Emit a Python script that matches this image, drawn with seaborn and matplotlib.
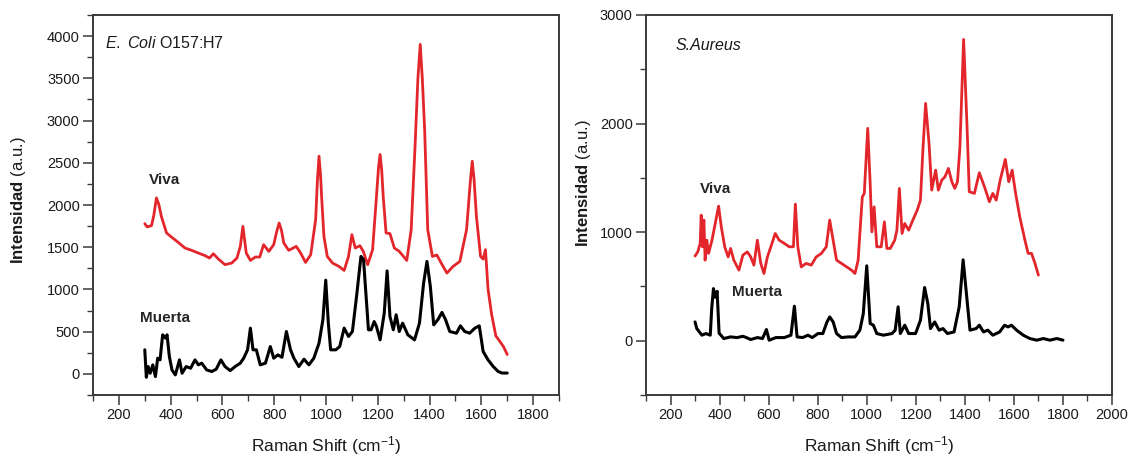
import matplotlib
matplotlib.use("Agg")
import matplotlib.pyplot as plt
import numpy as np
import pandas as pd
import seaborn as sns
from matplotlib.ticker import MultipleLocator

# ---------------- data ----------------
ecoli_viva_x = [300, 309, 326, 335, 345, 354, 364, 384, 403, 429, 455, 481, 507, 533, 550, 565, 584,
                610, 636, 656, 669, 679, 692, 708, 727, 744, 759, 779, 798, 810, 819, 828, 837, 856,
                885, 902, 921, 941, 960, 967, 973, 979, 983, 992, 1005, 1025, 1050, 1070, 1087, 1100,
                1113, 1131, 1144, 1161, 1180, 1195, 1203, 1209, 1215, 1221, 1232, 1247, 1264, 1283,
                1312, 1329, 1344, 1355, 1364, 1372, 1381, 1393, 1411, 1428, 1445, 1467, 1491, 1517,
                1543, 1558, 1565, 1572, 1581, 1597, 1607, 1616, 1626, 1640, 1656, 1672, 1686, 1700]
ecoli_viva_y = [1780, 1740, 1756, 1880, 2084, 2010, 1866, 1669, 1621, 1558, 1491, 1463, 1431, 1400,
                1372, 1423, 1361, 1293, 1313, 1372, 1510, 1747, 1431, 1344, 1384, 1384, 1530, 1451,
                1530, 1690, 1787, 1700, 1550, 1463, 1510, 1431, 1320, 1412, 1827, 2300, 2578, 2350,
                2103, 1629, 1391, 1313, 1273, 1225, 1391, 1649, 1491, 1518, 1451, 1293, 1471, 2103,
                2450, 2598, 2420, 2103, 1669, 1661, 1491, 1451, 1344, 1708, 2697, 3500, 3902, 3500,
                2894, 1708, 1391, 1408, 1313, 1194, 1273, 1332, 1708, 2300, 2518, 2300, 1866, 1391,
                1360, 1471, 1000, 700, 450, 383, 320, 230]

ecoli_muerta_x = [300, 306, 313, 321, 331, 341, 350, 359, 369, 380, 386, 395, 405, 418, 434, 444, 460,
                  477, 494, 507, 520, 539, 559, 576, 594, 610, 630, 649, 669, 682, 697, 708, 718, 731,
                  746, 766, 785, 798, 814, 830, 847, 863, 876, 895, 915, 934, 953, 973, 988, 999, 1009,
                  1018, 1038, 1053, 1070, 1087, 1102, 1118, 1135, 1145, 1154, 1164, 1174, 1186, 1195,
                  1209, 1225, 1236, 1247, 1260, 1271, 1283, 1296, 1316, 1342, 1361, 1377, 1390, 1403,
                  1416, 1432, 1448, 1462, 1478, 1504, 1519, 1536, 1555, 1575, 1592, 1607, 1626, 1646,
                  1665, 1680, 1700]
ecoli_muerta_y = [285, -40, 87, 8, 107, -32, 186, 166, 463, 423, 463, 205, 47, -12, 166, 8, 87, 67,
                  166, 107, 127, 47, 28, 56, 166, 87, 39, 87, 127, 186, 285, 542, 285, 285, 107, 127,
                  324, 186, 225, 197, 502, 285, 186, 87, 174, 107, 186, 364, 641, 1110, 601, 285, 285,
                  324, 542, 443, 502, 917, 1391, 1352, 957, 522, 522, 620, 561, 403, 720, 1220, 680,
                  522, 700, 502, 601, 463, 403, 601, 1076, 1332, 1036, 581, 641, 728, 641, 502, 482,
                  569, 502, 482, 542, 569, 265, 166, 87, 28, 10, 10]

saureus_viva_x = [300, 311, 321, 325, 330, 336, 341, 348, 355, 369, 385, 396, 407, 421, 435, 445, 458,
                  479, 495, 513, 527, 540, 554, 568, 581, 595, 609, 627, 643, 664, 684, 701, 709, 719,
                  733, 753, 774, 794, 815, 835, 849, 863, 877, 897, 918, 938, 952, 965, 972, 982, 990,
                  1004, 1014, 1021, 1030, 1041, 1059, 1072, 1082, 1096, 1114, 1123, 1133, 1144, 1155,
                  1171, 1188, 1206, 1219, 1229, 1240, 1254, 1265, 1281, 1292, 1306, 1319, 1333, 1347,
                  1359, 1370, 1380, 1395, 1409, 1418, 1439, 1459, 1480, 1500, 1514, 1528, 1544, 1565,
                  1579, 1593, 1607, 1624, 1645, 1658, 1672, 1686, 1700]
saureus_viva_y = [780, 818, 896, 1157, 865, 1111, 742, 926, 804, 926, 1111, 1240, 1049, 865, 772, 850,
                  742, 650, 788, 818, 772, 696, 926, 712, 619, 772, 865, 988, 926, 896, 865, 865, 1258,
                  865, 680, 712, 696, 772, 804, 865, 1111, 926, 742, 712, 680, 650, 619, 742, 988,
                  1325, 1357, 1956, 1449, 1003, 1233, 865, 865, 1095, 850, 850, 926, 1018, 1403, 988,
                  1080, 1018, 1111, 1203, 1295, 1756, 2186, 1817, 1387, 1571, 1387, 1479, 1510, 1587,
                  1464, 1403, 1464, 1786, 2775, 1971, 1372, 1357, 1547, 1418, 1280, 1357, 1295, 1479,
                  1670, 1464, 1571, 1357, 1141, 926, 804, 804, 712, 604]

saureus_muerta_x = [300, 307, 328, 344, 362, 368, 375, 382, 390, 398, 417, 444, 472, 495, 509, 527,
                    554, 575, 591, 602, 630, 664, 691, 705, 716, 739, 760, 778, 801, 821, 838, 849,
                    863, 877, 897, 924, 952, 972, 986, 1000, 1014, 1027, 1041, 1068, 1103, 1116, 1128,
                    1137, 1155, 1171, 1199, 1219, 1236, 1249, 1260, 1277, 1295, 1311, 1329, 1356,
                    1377, 1393, 1409, 1421, 1446, 1459, 1476, 1494, 1514, 1542, 1562, 1576, 1590,
                    1611, 1638, 1665, 1693, 1720, 1747, 1775, 1800]
saureus_muerta_y = [173, 112, 51, 66, 51, 300, 480, 400, 455, 70, 20, 35, 29, 41, 29, 11, 29, 20,
                    103, 5, 29, 29, 51, 318, 35, 29, 51, 29, 66, 66, 173, 219, 173, 66, 29, 35, 35,
                    97, 250, 690, 158, 143, 66, 51, 66, 97, 312, 66, 143, 66, 66, 189, 490, 343, 112,
                    173, 97, 112, 66, 81, 312, 745, 373, 97, 112, 143, 81, 97, 51, 81, 143, 127, 143,
                    97, 51, 20, 5, 20, 5, 20, 5]

series_names = ["Viva", "Muerta"]
RED = "#e3262b"
BLACK = "#000000"

# ---------------- style ----------------
sns.set_theme(style="ticks")
plt.rcParams["font.family"] = ["Liberation Sans", "DejaVu Sans"]
plt.rcParams["mathtext.fontset"] = "custom"
plt.rcParams["mathtext.rm"] = "Liberation Sans"
plt.rcParams["mathtext.it"] = "Liberation Sans:italic"
plt.rcParams["mathtext.bf"] = "Liberation Sans:bold"

fig = plt.figure(figsize=(11.37, 4.57), dpi=100)
W, H = 1137, 457
ax1 = fig.add_axes([93 / W, 1 - 395 / H, (559 - 93) / W, 380 / H])
ax2 = fig.add_axes([646 / W, 1 - 395 / H, (1112 - 646) / W, 380 / H])


def draw(ax, vx, vy, mx, my):
    dv = pd.DataFrame({"x": vx, "y": vy, "s": series_names[0]})
    dm = pd.DataFrame({"x": mx, "y": my, "s": series_names[1]})
    sns.lineplot(data=dv, x="x", y="y", color=RED, lw=2.0, estimator=None, sort=False, ax=ax)
    sns.lineplot(data=dm, x="x", y="y", color=BLACK, lw=2.2, estimator=None, sort=False, ax=ax)


draw(ax1, ecoli_viva_x, ecoli_viva_y, ecoli_muerta_x, ecoli_muerta_y)
draw(ax2, saureus_viva_x, saureus_viva_y, saureus_muerta_x, saureus_muerta_y)

ax1.set_xlim(100, 1900)
ax1.set_ylim(-250, 4250)
ax1.set_xticks(list(range(200, 1801, 200)))
ax1.xaxis.set_minor_locator(MultipleLocator(100))
ax1.yaxis.set_major_locator(MultipleLocator(500))
ax1.yaxis.set_minor_locator(MultipleLocator(250))

ax2.set_xlim(100, 2000)
ax2.set_ylim(-500, 3000)
ax2.set_xticks(list(range(200, 2001, 200)))
ax2.xaxis.set_minor_locator(MultipleLocator(100))
ax2.yaxis.set_major_locator(MultipleLocator(1000))
ax2.yaxis.set_minor_locator(MultipleLocator(500))

for ax in (ax1, ax2):
    for s in ax.spines.values():
        s.set_color("#3a3a3a")
        s.set_linewidth(1.4)
        s.set_visible(True)
    ax.tick_params(which="major", direction="out", length=7, width=1.1, color="#3a3a3a",
                   labelsize=10.5, pad=2.5, labelcolor="#1a1a1a")
    ax.tick_params(which="minor", direction="out", length=4, width=1.0, color="#3a3a3a")
    ax.set_xlabel("Raman Shift (cm$^{-1}$)", fontsize=12.5, color="#1a1a1a")
    ax.set_ylabel(r"$\mathbf{Intensidad}$ (a.u.)", fontsize=12, color="#1a1a1a")
    ax.xaxis.set_label_coords(0.5, -0.103)
    ax.grid(False)

ax1.yaxis.set_label_coords(-0.139, 0.513)
ax2.yaxis.set_label_coords(-0.114, 0.558)

# annotations
ax1.text(145, 3920, r"$\mathit{E.}$ $\mathit{Coli}$ O157:H7", fontsize=11.5, va="center",
         ha="left", color="#1a1a1a")
ax1.text(315, 2300, "Viva", fontsize=11, fontweight="bold", va="center", ha="left")
ax1.text(283, 665, "Muerta", fontsize=11, fontweight="bold", va="center", ha="left")

ax2.text(220, 2720, "S.Aureus", fontsize=11.5, style="italic", va="center", ha="left",
         color="#1a1a1a")
ax2.text(318, 1400, "Viva", fontsize=11, fontweight="bold", va="center", ha="left")
ax2.text(450, 450, "Muerta", fontsize=11, fontweight="bold", va="center", ha="left")

fig.savefig("out.png", dpi=100, facecolor="white")
